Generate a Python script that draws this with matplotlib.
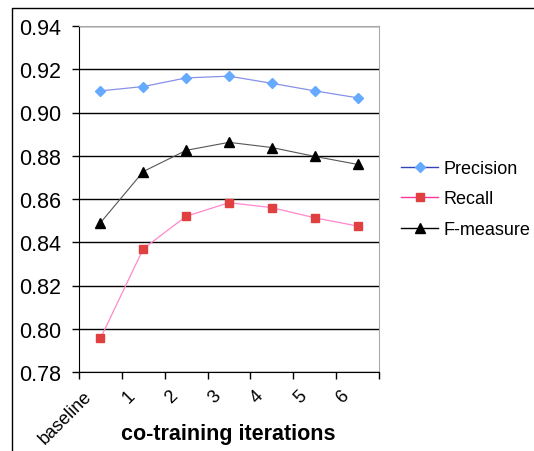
#!/usr/bin/env python3

import matplotlib
matplotlib.use('Agg')
import matplotlib.pyplot as plt
import matplotlib.transforms as mtransforms
from matplotlib.lines import Line2D

categories = ['baseline', '1', '2', '3', '4', '5', '6']
precision = [0.910, 0.912, 0.916, 0.9168, 0.9135, 0.910, 0.9068]
recall = [0.7955, 0.837, 0.852, 0.8583, 0.856, 0.8513, 0.8475]
f_measure = [0.849, 0.8727, 0.8825, 0.8862, 0.8838, 0.8797, 0.876]
yticks = [0.78, 0.80, 0.82, 0.84, 0.86, 0.88, 0.90, 0.92, 0.94]

plt.rcParams['font.family'] = ['Liberation Sans', 'DejaVu Sans']

fig = plt.figure(figsize=(5.34, 4.52), dpi=100)
ax = fig.add_axes([79 / 534, 1 - 373 / 452, 300 / 534, 346 / 452])

x = list(range(len(categories)))
ax.plot(x, precision, color='#8890e8', lw=0.9, marker='D', ms=5.5,
        mfc='#66aaff', mec='#66aaff', label='Precision', zorder=3)
ax.plot(x, recall, color='#ff88cc', lw=0.9, marker='s', ms=5.5,
        mfc='#e04040', mec='#e04040', label='Recall', zorder=3)
ax.plot(x, f_measure, color='#555555', lw=0.8, marker='^', ms=7,
        mfc='black', mec='black', label='F-measure', zorder=3)

ax.set_xlim(-0.5, len(categories) - 0.5)
ax.set_ylim(0.78, 0.94)
ax.set_yticks(yticks)
ax.set_yticklabels(['%.2f' % v for v in yticks], fontsize=15.5)
ax.yaxis.grid(True, color='black', lw=1)
ax.set_axisbelow(True)
ax.tick_params(axis='y', direction='out', length=5, width=1, pad=8)

ax.set_xticks(x)
ax.set_xticks([i - 0.5 for i in range(len(categories) + 1)], minor=True)
ax.tick_params(axis='x', which='major', length=0, pad=15)
ax.tick_params(axis='x', which='minor', direction='out', length=5, width=1)
ax.set_xticklabels(categories, rotation=45, ha='right', va='center',
                   rotation_mode='anchor', fontsize=13)
# labels sit a little left of the category centres
shift = mtransforms.ScaledTranslation(-11 / 100, 0, fig.dpi_scale_trans)
for lbl in ax.get_xticklabels():
    lbl.set_transform(lbl.get_transform() + shift)

fig.text(228 / 534, 1 - 435 / 452, 'co-training iterations', fontsize=15.5,
         fontweight='bold', ha='center', va='center')

for side in ['top', 'right']:
    ax.spines[side].set_color('#aaaaaa')
ax.spines['left'].set_color('black')
ax.spines['bottom'].set_color('black')

handles = [
    Line2D([], [], color='#3344bb', lw=1, marker='D', ms=5.5,
           mfc='#66aaff', mec='#66aaff'),
    Line2D([], [], color='#ff3399', lw=1, marker='s', ms=5.5,
           mfc='#e04040', mec='#e04040'),
    Line2D([], [], color='black', lw=1, marker='^', ms=7,
           mfc='black', mec='black'),
]
fig.legend(handles, ['Precision', 'Recall', 'F-measure'],
           loc='center left', bbox_to_anchor=(401 / 534, 1 - 200 / 452),
           frameon=False, fontsize=13, handlelength=2.05, handletextpad=0.3,
           labelspacing=0.75, borderpad=0, borderaxespad=0)

# outer frame (left and top edges only)
fig.add_artist(Line2D([12 / 534, 12 / 534, 1], [0, 1 - 9 / 452, 1 - 9 / 452],
                      transform=fig.transFigure, color='black', lw=1))

fig.savefig('out.png', dpi=100)
